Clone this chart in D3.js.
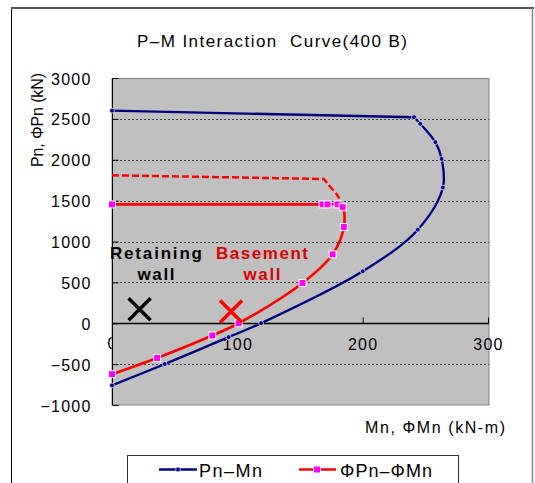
<!DOCTYPE html>
<html><head><meta charset="utf-8">
<script src="https://cdn.jsdelivr.net/npm/d3@7"></script>
<style>
html,body{margin:0;padding:0;background:#fff;}
svg{display:block;font-family:"Liberation Sans",Arial,sans-serif;}
text{white-space:pre;}
</style></head>
<body>
<svg id="chart" width="535" height="483"></svg>
<script>
// ---- data ----
const title = "P\u2013M Interaction  Curve(400 B)";
const xTitle = "Mn, \u03A6Mn (kN-m)";
const yTitle = "Pn, \u03A6Pn (kN)";
const xTicks = [0, 100, 200, 300];
const yTicks = [-1000, -500, 0, 500, 1000, 1500, 2000, 2500, 3000];
const seriesNames = ["Pn\u2013Mn", "\u03A6Pn\u2013\u03A6Mn"];
// nominal strength Pn-Mn
const pnM = [0, 241, 246, 258, 263, 264, 244, 200, 119, 93, 42, 0];
const pnP = [2600, 2520, 2440, 2215, 2010, 1660, 1145, 635, 0, -170, -500, -760];
// design strength (capped) phiPn-phiMn
const phiM = [0, 168, 172, 180, 184, 185, 176, 152, 101, 80, 36, 0];
const phiP = [1454, 1454, 1454, 1454, 1420, 1177, 843, 492, 0, -150, -424, -623];
// uncapped design curve (dashed, top part)
const dashM = [0, 169, 172, 180.5, 184];
const dashP = [1810, 1765, 1708, 1550, 1420];
// load points
const loadLabels = [["Retaining", "wall"], ["Basement", "wall"]];
const loadM = [22, 95];
const loadP = [170, 145];
const loadColors = ["#000000", "#ff0000"];
const labelColors = ["#000000", "#d80000"];

// ---- layout ----
const svg = d3.select("#chart");
const x = d3.scaleLinear().domain([0, 300]).range([112, 488]);
const y = d3.scaleLinear().domain([-1000, 3000]).range([405, 78]);

// outer frame
svg.append("line").attr("x1", 11.5).attr("x2", 11.5).attr("y1", 8).attr("y2", 483).attr("stroke", "#000").attr("stroke-width", 1);
svg.append("line").attr("x1", 11).attr("x2", 534).attr("y1", 8).attr("y2", 8).attr("stroke", "#555").attr("stroke-width", 2);
svg.append("line").attr("x1", 532.5).attr("x2", 532.5).attr("y1", 8).attr("y2", 483).attr("stroke", "#888").attr("stroke-width", 1.5);

// title
svg.append("text").attr("x", 137).attr("y", 46.5).attr("font-size", 17).attr("fill", "#000")
  .attr("textLength", 270).attr("lengthAdjust", "spacing").text(title);

// "0" x label drawn under plot area (partially hidden as in reference)
svg.append("text").attr("x", x(0)).attr("y", 349).attr("text-anchor", "middle").attr("font-size", 16).text(d3.format("d")(xTicks[0]));

// plot area
svg.append("rect").attr("x", 112).attr("y", 78.5).attr("width", 377).attr("height", 326.5)
  .attr("fill", "#c0c0c0").attr("stroke", "#808080").attr("stroke-width", 1);

// gridlines
svg.append("g").selectAll("line").data(yTicks.filter(v => v !== 0 && v !== 3000 && v !== -1000)).join("line")
  .attr("x1", 112).attr("x2", 489).attr("y1", d => Math.round(y(d)) + 0.5).attr("y2", d => Math.round(y(d)) + 0.5)
  .attr("stroke", "#404040").attr("stroke-width", 1).attr("stroke-dasharray", "2,2");

// y axis
const yAxis = d3.axisRight(y).tickValues(yTicks).tickSize(6).tickFormat(d3.format("d"));
const gy = svg.append("g").attr("transform", "translate(112.5,0)").call(yAxis);
gy.select(".domain").attr("stroke", "#000").attr("d", `M0,${y(3000)}V${y(-1000)}`);
gy.selectAll(".tick line").attr("stroke", "#000");
gy.selectAll(".tick text").attr("x", -21).attr("dy", "0.38em").attr("text-anchor", "end")
  .attr("font-size", 16).attr("letter-spacing", 1.2).attr("fill", "#000")
  .attr("font-family", "Liberation Sans, Arial, sans-serif");

// x axis at P=0
const xAxis = d3.axisTop(x).tickValues(xTicks).tickSize(6).tickFormat(d3.format("d"));
const gx = svg.append("g").attr("transform", `translate(0,${Math.round(y(0)) + 0.5})`).call(xAxis);
gx.select(".domain").attr("stroke", "#000").attr("stroke-width", 1.5).attr("d", `M${x(0)},0H489`);
gx.selectAll(".tick line").attr("stroke", "#000");
gx.selectAll(".tick text").attr("y", 26).attr("dy", 0).attr("font-size", 16).attr("letter-spacing", 1.2)
  .attr("fill", "#000").attr("font-family", "Liberation Sans, Arial, sans-serif")
  .filter(d => d === 0).remove();

// axis titles
svg.append("text").attr("transform", "translate(43,167) rotate(-90)").attr("font-size", 16)
  .attr("textLength", 94).attr("lengthAdjust", "spacing").text(yTitle);
svg.append("text").attr("x", 365).attr("y", 432.5).attr("font-size", 16)
  .attr("textLength", 140).attr("lengthAdjust", "spacing").text(xTitle);

// curves: straight top segment, smoothed remainder
const smooth = d3.line().x(d => x(d[0])).y(d => y(d[1])).curve(d3.curveCatmullRom.alpha(0.5));
const straight = d3.line().x(d => x(d[0])).y(d => y(d[1]));
const pnData = pnM.map((m, i) => [m, pnP[i]]);
const phiData = phiM.map((m, i) => [m, phiP[i]]);
const dashData = dashM.map((m, i) => [m, dashP[i]]);
function combined(data, k) {
  const a = straight(data.slice(0, k + 1));
  const b = smooth(data.slice(k));
  return a + "L" + b.slice(1);
}

svg.append("path").attr("d", combined(dashData, 1)).attr("fill", "none").attr("stroke", "#ff0000")
  .attr("stroke-width", 2.5).attr("stroke-dasharray", "7,3");
svg.append("path").attr("d", combined(pnData, 1)).attr("fill", "none").attr("stroke", "#000080").attr("stroke-width", 2.3);
svg.append("path").attr("d", combined(phiData, 2)).attr("fill", "none").attr("stroke", "#ff0000").attr("stroke-width", 2.6);

svg.append("g").selectAll("circle").data(pnData).join("circle")
  .attr("cx", d => x(d[0])).attr("cy", d => y(d[1])).attr("r", 2.4)
  .attr("fill", "#000080").attr("stroke", "#d8d8f0").attr("stroke-width", 0.8);
svg.append("g").selectAll("rect").data(phiData).join("rect")
  .attr("x", d => x(d[0]) - 3.5).attr("y", d => y(d[1]) - 3.5).attr("width", 7).attr("height", 7)
  .attr("fill", "#ff00ff").attr("stroke", "#ffffff").attr("stroke-width", 1);

// load points (X marks) and labels
loadM.forEach((m, i) => {
  const cx = x(m), cy = y(loadP[i]), s = 11;
  svg.append("path").attr("d", `M${cx - s},${cy - s}L${cx + s},${cy + s}M${cx + s},${cy - s}L${cx - s},${cy + s}`)
    .attr("stroke", loadColors[i]).attr("stroke-width", 3.5).attr("fill", "none");
});
const labelX = [156, 262];
loadLabels.forEach((lab, i) => {
  svg.append("text").attr("x", labelX[i] - 46).attr("y", 259).attr("font-size", 17).attr("font-weight", "bold")
    .attr("fill", labelColors[i]).attr("textLength", 92).attr("lengthAdjust", "spacing").text(lab[0]);
  svg.append("text").attr("x", labelX[i] - 18.5).attr("y", 280).attr("font-size", 17).attr("font-weight", "bold")
    .attr("fill", labelColors[i]).attr("textLength", 37).attr("lengthAdjust", "spacing").text(lab[1]);
});

// legend
svg.append("rect").attr("x", 127.5).attr("y", 455.5).attr("width", 331).attr("height", 40)
  .attr("fill", "#fff").attr("stroke", "#333").attr("stroke-width", 1);
const lg = svg.append("g");
lg.append("line").attr("x1", 159).attr("x2", 197).attr("y1", 469.5).attr("y2", 469.5).attr("stroke", "#000080").attr("stroke-width", 2.3);
lg.append("circle").attr("cx", 178).attr("cy", 469.5).attr("r", 2.4).attr("fill", "#000080").attr("stroke", "#d8d8f0").attr("stroke-width", 0.8);
lg.append("text").attr("x", 199).attr("y", 477).attr("font-size", 18).attr("textLength", 63).attr("lengthAdjust", "spacing").text(seriesNames[0]);
lg.append("line").attr("x1", 299).attr("x2", 336).attr("y1", 469.5).attr("y2", 469.5).attr("stroke", "#ff0000").attr("stroke-width", 2.6);
lg.append("rect").attr("x", 313.5).attr("y", 466).attr("width", 7).attr("height", 7).attr("fill", "#ff00ff").attr("stroke", "#fff").attr("stroke-width", 1);
lg.append("text").attr("x", 340).attr("y", 477).attr("font-size", 18).attr("textLength", 92).attr("lengthAdjust", "spacing").text(seriesNames[1]);
</script>
</body></html>
